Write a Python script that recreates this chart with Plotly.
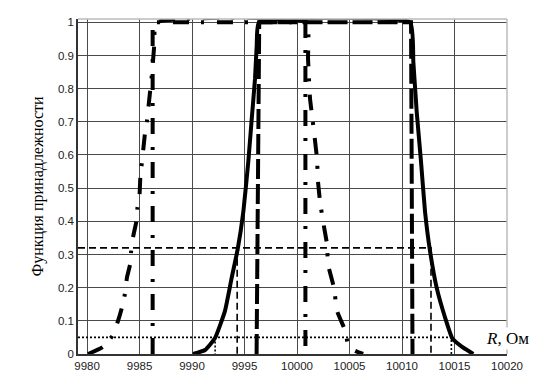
import plotly.graph_objects as go

# ---- data ----
x_ticks = [9980, 9985, 9990, 9995, 10000, 10005, 10010, 10015, 10020]
y_ticks = [0, 0.1, 0.2, 0.3, 0.4, 0.5, 0.6, 0.7, 0.8, 0.9, 1.0]
y_tick_labels = ["0", "0.1", "0.2", "0.3", "0.4", "0.5", "0.6", "0.7", "0.8", "0.9", "1"]

# dash-dot fuzzy curve (wide)
a_R = [9980.1, 9981.5, 9982.4, 9982.9, 9983.3, 9983.6, 9983.8, 9984.1, 9984.2, 9984.4,
       9984.7, 9984.8, 9985.0, 9985.1, 9985.2, 9985.5, 9985.7, 9986.0, 9986.2, 9986.4, 9986.6,
       10000.9, 10001.05, 10001.24, 10001.43, 10001.9, 10002.0, 10002.19, 10002.48, 10002.86,
       10002.95, 10003.52, 10003.81, 10004.57, 10004.86, 10005.5, 10006.3]
a_mu = [0.0, 0.021, 0.054, 0.095, 0.137, 0.18, 0.23, 0.27, 0.31, 0.355,
        0.40, 0.44, 0.48, 0.55, 0.57, 0.66, 0.70, 0.79, 0.85, 0.93, 1.0,
        1.0, 0.89, 0.77, 0.72, 0.59, 0.52, 0.46, 0.40, 0.33,
        0.27, 0.20, 0.13, 0.072, 0.03, 0.01, 0.0]

# dash-dot crisp interval
b_R = [9986.25, 9986.25, 10000.8, 10000.8]
b_mu = [0.0, 1.0, 1.0, 0.0]

# solid fuzzy curve
c_R = [9990.1, 9991.24, 9992.19, 9993.14, 9993.78, 9994.35, 9994.89, 9995.36, 9995.69,
       9996.0, 9996.16, 9996.38,
       10010.76, 10011.08, 10011.4, 10011.81, 10012.19, 10012.67, 10013.3, 10014.1,
       10014.79, 10015.69, 10016.79]
c_mu = [0.0, 0.012, 0.048, 0.13, 0.23, 0.316, 0.43, 0.58, 0.71,
        0.83, 0.93, 1.0,
        1.0, 0.88, 0.73, 0.58, 0.43, 0.31, 0.20, 0.11,
        0.047, 0.022, 0.0]

# thick dashed interval
d_R = [9996.15, 9996.4, 10010.86, 10011.0]
d_mu = [0.0, 1.0, 1.0, 0.0]

# alpha-cut guide lines
x_left = 9979.14
cut_hi_R = [x_left, 10012.76, 10012.76, None, 9994.3, 9994.3]
cut_hi_mu = [0.32, 0.32, 0.0, None, 0.32, 0.0]
cut_lo_R = [x_left, 10014.7, 10014.7, None, 9992.2, 9992.2]
cut_lo_mu = [0.05, 0.05, 0.0, None, 0.05, 0.0]

fig = go.Figure()

fig.add_trace(go.Scatter(x=cut_hi_R, y=cut_hi_mu, mode="lines",
                         line=dict(color="black", width=1.6, dash="7px,4px")))
fig.add_trace(go.Scatter(x=cut_lo_R, y=cut_lo_mu, mode="lines",
                         line=dict(color="black", width=1.6, dash="2px,2px")))
fig.add_trace(go.Scatter(x=a_R, y=a_mu, mode="lines",
                         line=dict(color="black", width=4, dash="16px,12px,3px,13px",
                                   shape="spline", smoothing=0.4)))
fig.add_trace(go.Scatter(x=b_R, y=b_mu, mode="lines",
                         line=dict(color="black", width=4, dash="16px,12px,3px,13px")))
fig.add_trace(go.Scatter(x=d_R, y=d_mu, mode="lines",
                         line=dict(color="black", width=4, dash="20px,5px")))
fig.add_trace(go.Scatter(x=c_R, y=c_mu, mode="lines",
                         line=dict(color="black", width=4, shape="spline", smoothing=0.4)))

tick_font = dict(family="Liberation Sans, Arial, sans-serif", size=11.5, color="#222")

fig.update_xaxes(range=[x_left, 10020], tickvals=x_ticks, ticktext=[str(v) for v in x_ticks],
                 tickfont=tick_font, showgrid=True, gridcolor="#4a4a4a", gridwidth=1,
                 zeroline=False, showline=True, linecolor="#333", linewidth=1.5, ticks="")
fig.update_yaxes(range=[0, 1.01], tickvals=y_ticks, ticktext=y_tick_labels,
                 tickfont=tick_font, showgrid=True, gridcolor="#4a4a4a", gridwidth=1,
                 zeroline=False, showline=True, linecolor="#333", linewidth=1.5, ticks="")

# light top / right frame
fig.add_shape(type="line", xref="paper", yref="paper", x0=0, x1=1, y0=1, y1=1,
              line=dict(color="#bbbbbb", width=1.5))
fig.add_shape(type="line", xref="paper", yref="paper", x0=1, x1=1, y0=0, y1=1,
              line=dict(color="#bbbbbb", width=1.5))

fig.add_annotation(text="Функция принадлежности", xref="paper", yref="paper",
                   x=0, y=0.5, xshift=-41, xanchor="center", yanchor="middle",
                   textangle=-90, showarrow=False,
                   font=dict(family="Liberation Serif, Times New Roman, serif", size=16, color="black"))
fig.add_annotation(text="<i>R</i>, Ом", xref="paper", yref="paper",
                   x=1, y=0.047, xanchor="center", yanchor="middle", showarrow=False,
                   bgcolor="white",
                   font=dict(family="Liberation Serif, Times New Roman, serif", size=17, color="black"))

# page body has an 8px default margin: shrink the figure so the plot area lands in place
fig.update_layout(width=534, height=373, margin=dict(l=70, r=35, t=8, b=27),
                  plot_bgcolor="white", paper_bgcolor="white", showlegend=False)

fig.write_html("out.html")
